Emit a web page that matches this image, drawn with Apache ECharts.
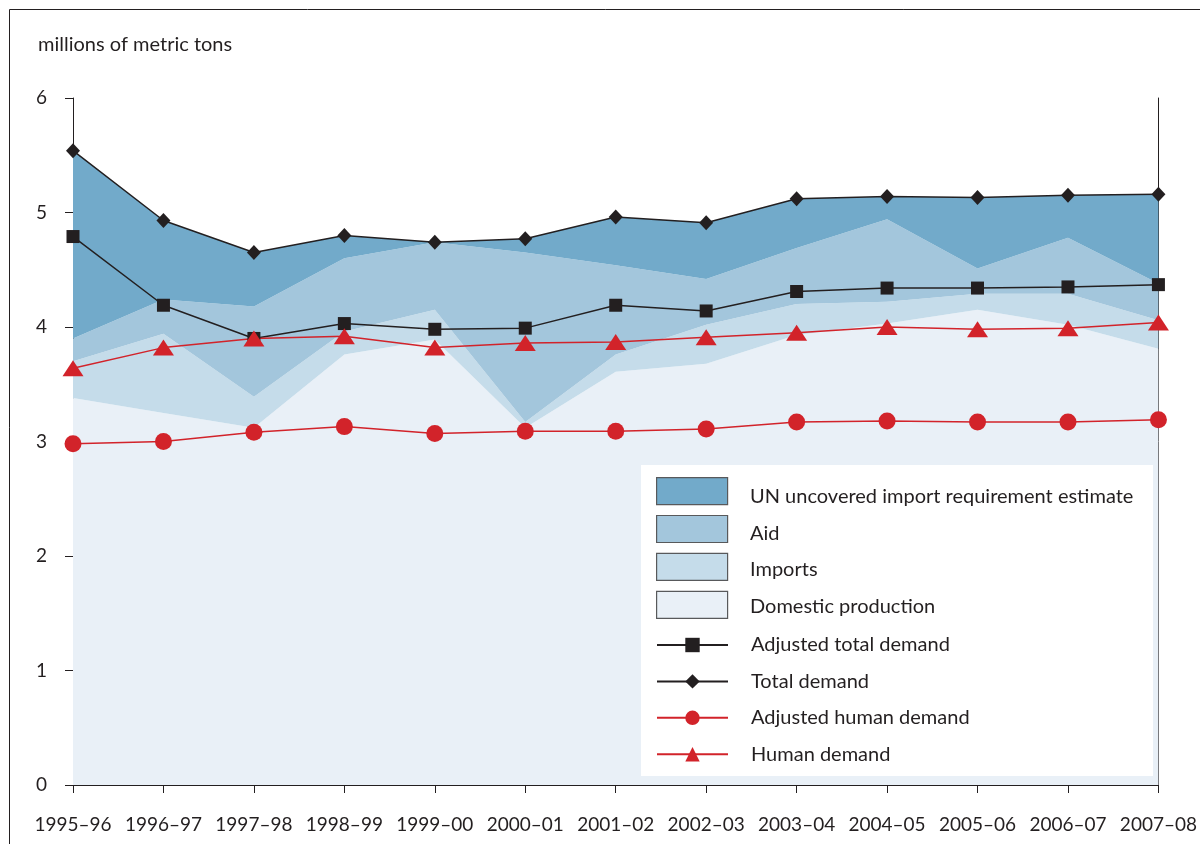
<!DOCTYPE html>
<html><head><meta charset="utf-8">
<script src="https://cdn.jsdelivr.net/npm/echarts@6/dist/echarts.min.js"></script>
<style>html,body{margin:0;padding:0;background:#fff}#c{width:1200px;height:844px}</style>
</head><body><div id="c"></div>
<script>
const categories = ['1995–96','1996–97','1997–98','1998–99','1999–00','2000–01','2001–02','2002–03','2003–04','2004–05','2005–06','2006–07','2007–08'];
// stacked area layers (millions of metric tons)
const domesticProduction = [3.38, 3.25, 3.12, 3.76, 3.89, 3.12, 3.61, 3.68, 3.93, 4.03, 4.15, 4.02, 3.81];
const imports            = [0.32, 0.69, 0.27, 0.20, 0.26, 0.05, 0.15, 0.34, 0.27, 0.19, 0.14, 0.27, 0.25];
const aid                = [0.20, 0.30, 0.79, 0.64, 0.59, 1.48, 0.78, 0.40, 0.49, 0.72, 0.22, 0.49, 0.32];
const unUncovered        = [1.64, 0.69, 0.47, 0.20, 0.00, 0.12, 0.42, 0.49, 0.43, 0.20, 0.62, 0.37, 0.78];
// demand lines
const adjustedTotalDemand = [4.79, 4.19, 3.90, 4.03, 3.98, 3.99, 4.19, 4.14, 4.31, 4.34, 4.34, 4.35, 4.37];
const totalDemand         = [5.54, 4.93, 4.65, 4.80, 4.74, 4.77, 4.96, 4.91, 5.12, 5.14, 5.13, 5.15, 5.16];
const adjustedHumanDemand = [2.98, 3.00, 3.08, 3.13, 3.07, 3.09, 3.09, 3.11, 3.17, 3.18, 3.17, 3.17, 3.19];
const humanDemand         = [3.64, 3.82, 3.90, 3.92, 3.82, 3.86, 3.87, 3.91, 3.95, 4.00, 3.98, 3.99, 4.04];
const yMin = 0, yMax = 6, yStep = 1;

const FONT = 'Lato';
const INK = '#231F20';
const RED = '#D2232A';
const areaDefs = [
  ['Domestic production', domesticProduction, '#E9F0F7'],
  ['Imports', imports, '#C5DCEA'],
  ['Aid', aid, '#A3C6DC'],
  ['UN uncovered import requirement estimate', unUncovered, '#72AACA']
];
const areaSeries = areaDefs.map(([name, data, color]) => ({
  name, type: 'line', stack: 'supply', data, color,
  symbol: 'none', silent: true, z: 1,
  lineStyle: { width: 0, color },
  itemStyle: { color },
  areaStyle: { color, opacity: 1 }
}));
const lineDefs = [
  ['Adjusted total demand', adjustedTotalDemand, INK, 'rect', 13],
  ['Total demand', totalDemand, INK, 'diamond', [14, 15]],
  ['Adjusted human demand', adjustedHumanDemand, RED, 'circle', 17],
  ['Human demand', humanDemand, RED, 'triangle', [21, 16]]
];
const lineSeries = lineDefs.map(([name, data, color, symbol, symbolSize]) => ({
  name, type: 'line', data, color, symbol, symbolSize, z: 5,
  lineStyle: { width: 1.5, color },
  itemStyle: { color, opacity: 1 }
}));
const areaLegendNames = areaDefs.slice().reverse().map(d => d[0]);

const chart = echarts.init(document.getElementById('c'));
chart.setOption({
  animation: false,
  backgroundColor: '#fff',
  title: {
    text: 'millions of metric tons', left: 33, top: 30,
    textStyle: { fontFamily: FONT, fontSize: 20, fontWeight: 'normal', color: INK }
  },
  grid: { left: 73, right: 38, top: 98, bottom: 59 },
  xAxis: {
    type: 'category', data: categories, boundaryGap: false,
    axisLine: { lineStyle: { color: INK, width: 1 } },
    axisTick: { show: true, length: 8, interval: 0, lineStyle: { color: INK } },
    axisLabel: { interval: 0, margin: 30, color: INK, fontFamily: FONT, fontSize: 19 },
    splitLine: { show: false }
  },
  yAxis: [{
    type: 'value', min: yMin, max: yMax, interval: yStep,
    axisLine: { show: true, lineStyle: { color: INK, width: 1 } },
    axisTick: { show: true, length: 8, lineStyle: { color: INK } },
    axisLabel: { margin: 26, color: INK, fontFamily: FONT, fontSize: 19 },
    splitLine: { show: false }
  }, {
    type: 'value', min: yMin, max: yMax, interval: yStep, position: 'right',
    axisLine: { show: true, lineStyle: { color: INK, width: 1 } },
    axisTick: { show: false }, axisLabel: { show: false }, splitLine: { show: false }
  }],
  legend: [{
    // area swatches
    orient: 'vertical', left: 656, top: 477, padding: 0, itemWidth: 71, itemHeight: 27, itemGap: 9.7,
    selectedMode: false, formatter: () => '',
    data: areaLegendNames.map(name => ({ name, icon: 'rect', itemStyle: { borderColor: '#58595B', borderWidth: 1.2 } })),
    textStyle: { fontFamily: FONT, fontSize: 20, color: INK, lineHeight: 18 }
  }, {
    // area labels (sit slightly below swatches, as in the original)
    orient: 'vertical', left: 656, top: 483, padding: 0, itemWidth: 71, itemHeight: 27, itemGap: 9.7,
    selectedMode: false,
    data: areaLegendNames.map(name => ({ name, icon: 'rect', itemStyle: { color: 'rgba(0,0,0,0)', borderWidth: 0, opacity: 0 } })),
    textStyle: { fontFamily: FONT, fontSize: 20, color: INK, padding: [0, 0, 0, 18], lineHeight: 18 }
  }, {
    orient: 'vertical', left: 656, top: 635, padding: 0, itemWidth: 71, itemHeight: 18, itemGap: 16.4,
    selectedMode: false,
    data: lineDefs.map(d => d[0]),
    textStyle: { fontFamily: FONT, fontSize: 20, color: INK, padding: [0, 0, 0, 18], lineHeight: 18 }
  }],
  graphic: [
    { type: 'rect', shape: { x: 9.5, y: 9.5, width: 1300, height: 900 }, style: { fill: 'none', stroke: INK, lineWidth: 1 }, z: 0, silent: true },
    { type: 'rect', shape: { x: 641, y: 465, width: 512, height: 311 }, style: { fill: '#fff' }, z: 3, silent: true }
  ],
  series: [...areaSeries, ...lineSeries]
});
</script></body></html>
